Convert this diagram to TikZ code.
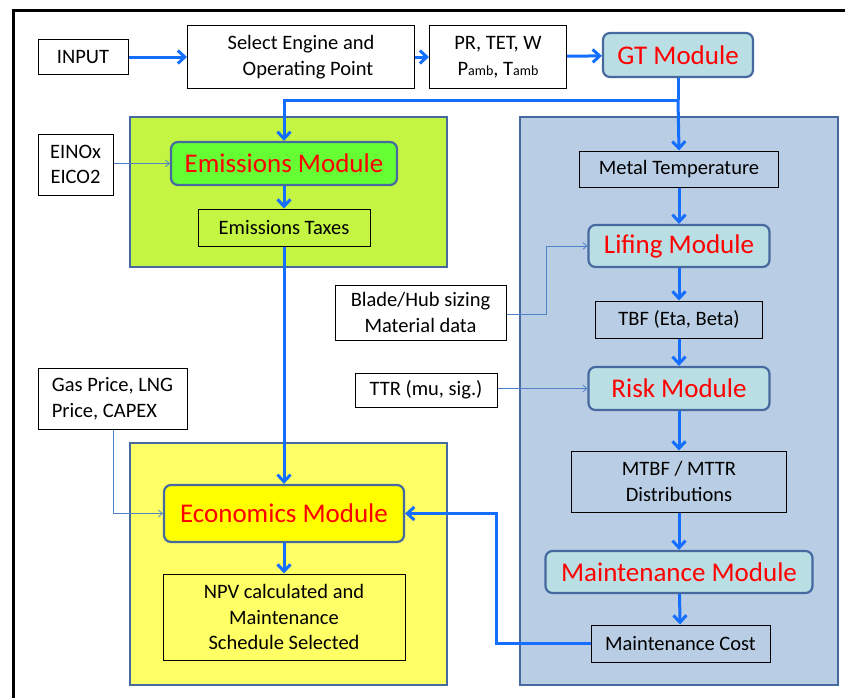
\documentclass[tikz,border=0pt]{standalone}
\usepackage{fontspec}
\setmainfont{Carlito}
\usetikzlibrary{arrows.meta}
\definecolor{flowblue}{RGB}{20,110,255}
\definecolor{thinblue}{RGB}{80,130,200}
\definecolor{panelline}{RGB}{70,105,160}
\definecolor{greenpanel}{RGB}{196,245,66}
\definecolor{greenmod}{RGB}{102,255,51}
\definecolor{bluepanel}{RGB}{185,205,228}
\definecolor{tealmod}{RGB}{185,223,228}
\definecolor{yellowpanel}{RGB}{255,255,102}
\definecolor{yellowmod}{RGB}{255,255,0}
\tikzset{
  plainbox/.style={draw=black, line width=1pt, fill=white, align=center,
    inner sep=0pt, font=\fontsize{20.5}{25.5}\selectfont},
  modbox/.style={draw=panelline, line width=2.2pt, rounded corners=7pt, align=center,
    inner sep=0pt, text=red, font=\fontsize{27}{30}\selectfont},
  panel/.style={draw=panelline, line width=2pt},
  flow/.style={draw=flowblue, line width=3pt, -{Straight Barb[length=7pt,width=13pt,line width=3pt]}},
  feed/.style={draw=thinblue, line width=0.8pt, -{Straight Barb[length=4pt,width=7pt]}},
}
\begin{document}
\begin{tikzpicture}[x=1pt,y=-1pt]
\useasboundingbox (0,0) rectangle (845,697);
\clip (0,0) rectangle (845,697);
\fill[white] (0,0) rectangle (845,697);
% outer frame
\draw[black, line width=3pt] (13,10) rectangle (880,720);

% background panels
\filldraw[panel, fill=greenpanel] (130,117) rectangle (447,267);
\filldraw[panel, fill=yellowpanel] (130,443) rectangle (447,685);
\filldraw[panel, fill=bluepanel] (520,117) rectangle (838,685);

% top row
\node[plainbox, minimum width=90pt, minimum height=35pt] (input) at (83,57) {INPUT};
\node[plainbox, minimum width=227pt, minimum height=63pt] (select) at (301,57) {Select Engine and\\\hspace*{14pt}Operating Point};
\node[plainbox, minimum width=137pt, minimum height=63pt] (params) at (498,57)
  {PR, TET, W\\P{\fontsize{14}{14}\selectfont amb}, T{\fontsize{14}{14}\selectfont amb}};
\node[modbox, fill=tealmod, minimum width=150pt, minimum height=44pt] (gt) at (678,55) {GT Module};

% emissions branch
\node[plainbox, minimum width=75pt, minimum height=61pt] (einox) at (75.5,164.5) {EINOx\\EICO2};
\node[modbox, fill=greenmod, minimum width=226pt, minimum height=43pt] (emis) at (284,163.5) {Emissions Module};
\node[plainbox, fill=greenpanel, minimum width=172pt, minimum height=37pt] (tax) at (284,227.5) {Emissions Taxes};

% economics branch
\node[plainbox, minimum width=149pt, minimum height=61pt, align=left] (gas) at (112.5,398.5) {Gas Price, LNG\\Price, CAPEX};
\node[modbox, fill=yellowmod, minimum width=240pt, minimum height=57pt] (econ) at (284,513.5) {Economics Module};
\node[plainbox, fill=yellowpanel, minimum width=242pt, minimum height=86pt] (npv) at (284,617) {NPV calculated and\\Maintenance\\Schedule Selected};

% maintenance branch
\node[plainbox, fill=bluepanel, minimum width=199pt, minimum height=36pt] (metal) at (679,169) {Metal Temperature};
\node[modbox, fill=tealmod, minimum width=181pt, minimum height=42pt] (lifing) at (679,246) {Lifing Module};
\node[plainbox, fill=bluepanel, minimum width=167pt, minimum height=37pt] (tbf) at (679,319.5) {TBF (Eta, Beta)};
\node[modbox, fill=tealmod, minimum width=181pt, minimum height=43pt] (risk) at (679,388.5) {Risk Module};
\node[plainbox, fill=bluepanel, minimum width=215pt, minimum height=61pt] (mtbf) at (679,481.5) {MTBF / MTTR\\Distributions};
\node[modbox, fill=tealmod, minimum width=267pt, minimum height=42pt] (maint) at (679,572) {Maintenance Module};
\node[plainbox, fill=bluepanel, minimum width=179pt, minimum height=37pt] (cost) at (680.5,643.5) {Maintenance Cost};

% side inputs
\node[plainbox, minimum width=171pt, minimum height=55pt] (blade) at (420.5,312.5) {Blade/Hub sizing\\Material data};
\node[plainbox, minimum width=142pt, minimum height=34pt] (ttr) at (426,390) {TTR (mu, sig.)};

\coordinate (split) at (678,100);
\coordinate (bladeturn) at (546,314);
\coordinate (gasturn) at (113,513.5);
\coordinate (costturn) at (496,643.5);

% main flow
\draw[flow] (input) -- (select);
\draw[flow] (select) -- (params);
\draw[flow] (params) -- (gt);
\draw[flow, -] (gt.south) -- (split);
\draw[flow] (split) -| (emis.north);
\draw[flow] (split) -- (metal.north);
\draw[flow] (emis) -- (tax);
\draw[flow] (tax) -- (econ);
\draw[flow] (econ) -- (npv);
\draw[flow] (metal) -- (lifing);
\draw[flow] (lifing) -- (tbf);
\draw[flow] (tbf) -- (risk);
\draw[flow] (risk) -- (mtbf);
\draw[flow] (mtbf) -- (maint);
\draw[flow] (maint) -- (cost);
\draw[flow] (cost.west) -- (costturn) |- (econ.east);

% side feeds
\draw[feed] (einox.east |- emis.west) -- (emis.west);
\draw[feed] (blade.east |- bladeturn) -- (bladeturn) |- (lifing.west);
\draw[feed] (ttr.east |- risk.west) -- (risk.west);
\draw[feed] (gas.south -| gasturn) -- (gasturn) -- (econ.west);
\end{tikzpicture}
\end{document}
